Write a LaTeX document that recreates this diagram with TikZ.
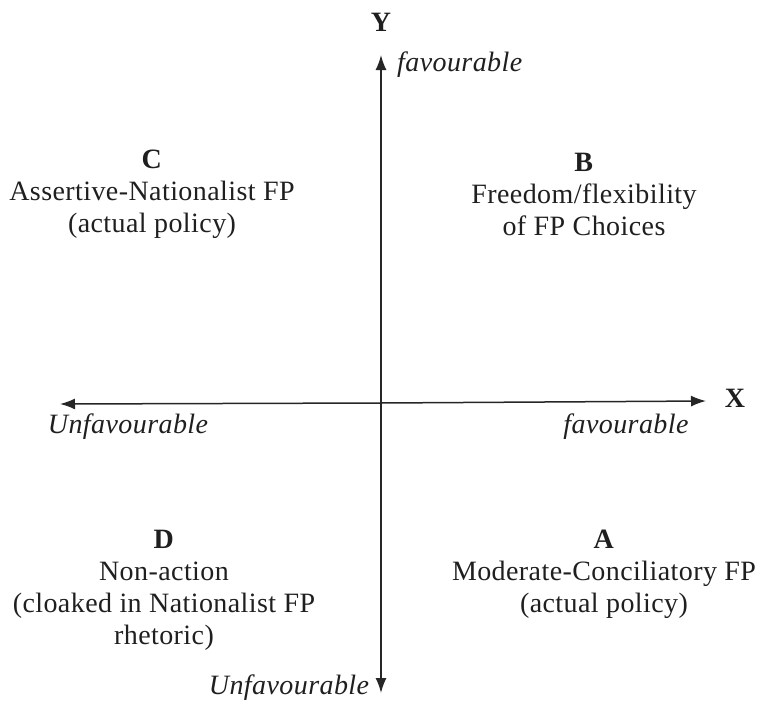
\documentclass[tikz,border=0pt]{standalone}
\usepackage{fontspec}
\setmainfont{Liberation Serif}[LetterSpace=1.5]
\usetikzlibrary{arrows.meta}
\begin{document}
\begin{tikzpicture}[x=1pt,y=-1pt,
  axis/.style={line width=1.5pt, draw=black!85, -{Latex[length=15pt,width=11pt]}},
  quad/.style={align=center, font=\fontsize{28}{32}\selectfont, text=black!88, inner sep=0pt},
  tick/.style={font=\fontsize{28}{32}\selectfont\itshape, text=black!88, inner sep=0pt},
  axname/.style={font=\fontsize{28}{32}\selectfont\bfseries, text=black!88, inner sep=0pt}]
  \useasboundingbox (0,0) rectangle (761,702);
  % axis end points
  \coordinate (o)  at (381,403);
  \coordinate (yt) at (381,55);
  \coordinate (yb) at (381,693);
  \coordinate (xl) at (60,404);
  \coordinate (xr) at (706,401);
  \draw[axis] (o) -- (yt);
  \draw[axis] (o) -- (yb);
  \draw[axis] (o) -- (xl);
  \draw[axis] (o) -- (xr);
  % axis names and end labels
  \node[axname] (ylab) at (381,22) {Y};
  \node[axname] (xlab) at (735,398) {X};
  \node[tick, anchor=west] (yfav) at (397,65) {favourable};
  \node[tick] (xunfav) at (128,427) {Unfavourable};
  \node[tick] (xfav) at (626,427) {favourable};
  \node[tick] (yunfav) at (289,688) {Unfavourable};
  % quadrant labels
  \node[quad] (qc) at (152,194) {\textbf{C}\\Assertive-Nationalist FP\\(actual policy)};
  \node[quad] (qb) at (584,194) {\textbf{B}\\Freedom/flexibility\\of FP Choices};
  \node[quad] (qd) at (164,590) {\textbf{D}\\Non-action\\(cloaked in Nationalist FP\\rhetoric)};
  \node[quad] (qa) at (604,574) {\textbf{A}\\Moderate-Conciliatory FP\\(actual policy)};
\end{tikzpicture}
\end{document}
